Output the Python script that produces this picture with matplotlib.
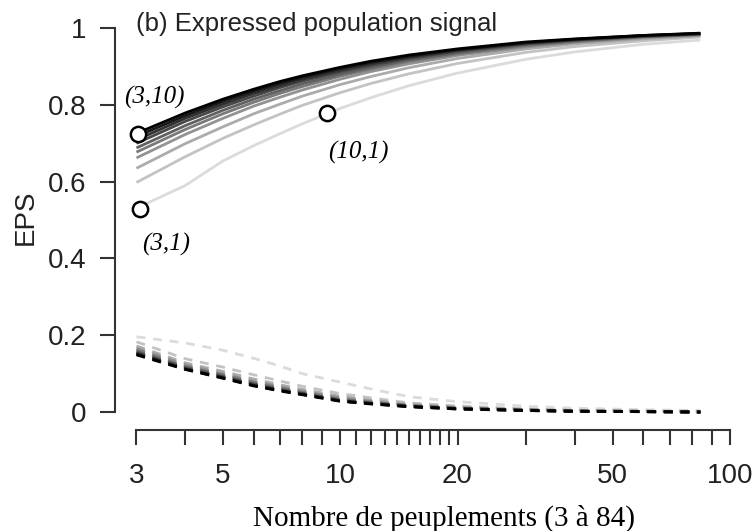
import numpy as np
import matplotlib.pyplot as plt

# number of stands (x) and EPS curves, one per series 1..10 (light -> dark)
n_stands = [3, 4, 5, 6, 7, 8, 10, 12, 15, 20, 30, 40, 60, 84]

eps_1 = [0.531, 0.590, 0.654, 0.694, 0.725, 0.751, 0.791, 0.819, 0.850, 0.883, 0.919, 0.938, 0.958, 0.969]
eps_2 = [0.598, 0.665, 0.713, 0.748, 0.776, 0.799, 0.832, 0.856, 0.881, 0.908, 0.937, 0.952, 0.967, 0.977]
eps_3 = [0.635, 0.699, 0.743, 0.777, 0.802, 0.823, 0.853, 0.874, 0.897, 0.921, 0.946, 0.959, 0.972, 0.980]
eps_4 = [0.662, 0.723, 0.765, 0.797, 0.820, 0.839, 0.867, 0.887, 0.907, 0.929, 0.951, 0.963, 0.975, 0.982]
eps_5 = [0.677, 0.736, 0.777, 0.807, 0.830, 0.848, 0.875, 0.893, 0.913, 0.933, 0.954, 0.965, 0.977, 0.983]
eps_6 = [0.688, 0.746, 0.786, 0.815, 0.837, 0.855, 0.880, 0.898, 0.917, 0.936, 0.957, 0.967, 0.978, 0.984]
eps_7 = [0.700, 0.757, 0.795, 0.823, 0.845, 0.862, 0.886, 0.903, 0.921, 0.940, 0.959, 0.969, 0.979, 0.985]
eps_8 = [0.709, 0.765, 0.802, 0.830, 0.850, 0.867, 0.890, 0.907, 0.924, 0.942, 0.961, 0.970, 0.980, 0.986]
eps_9 = [0.718, 0.772, 0.809, 0.836, 0.856, 0.872, 0.895, 0.911, 0.927, 0.944, 0.962, 0.971, 0.981, 0.986]
eps_10 = [0.726, 0.779, 0.815, 0.841, 0.861, 0.876, 0.898, 0.914, 0.930, 0.946, 0.964, 0.972, 0.981, 0.987]

# dashed curves at the bottom
low_1 = [0.196, 0.180, 0.161, 0.140, 0.120, 0.100, 0.078, 0.060, 0.040, 0.027, 0.015, 0.010, 0.006, 0.004]
low_2 = [0.183, 0.139, 0.117, 0.097, 0.081, 0.067, 0.048, 0.037, 0.024, 0.016, 0.008, 0.005, 0.003, 0.002]
low_3 = [0.172, 0.128, 0.106, 0.086, 0.071, 0.059, 0.041, 0.031, 0.021, 0.013, 0.007, 0.004, 0.002, 0.001]
low_4 = [0.166, 0.123, 0.100, 0.080, 0.066, 0.054, 0.037, 0.028, 0.018, 0.011, 0.006, 0.003, 0.002, 0.001]
low_5 = [0.162, 0.119, 0.097, 0.077, 0.063, 0.052, 0.034, 0.026, 0.017, 0.010, 0.005, 0.003, 0.002, 0.000]
low_6 = [0.158, 0.117, 0.094, 0.074, 0.060, 0.049, 0.032, 0.024, 0.016, 0.010, 0.005, 0.003, 0.001, 0.000]
low_7 = [0.155, 0.114, 0.092, 0.072, 0.058, 0.048, 0.030, 0.023, 0.015, 0.009, 0.005, 0.002, 0.001, 0.000]
low_8 = [0.153, 0.113, 0.090, 0.070, 0.057, 0.047, 0.029, 0.022, 0.015, 0.009, 0.004, 0.002, 0.001, 0.000]
low_9 = [0.151, 0.112, 0.089, 0.069, 0.056, 0.046, 0.029, 0.022, 0.014, 0.008, 0.004, 0.002, 0.001, 0.000]
low_10 = [0.149, 0.111, 0.088, 0.068, 0.055, 0.045, 0.028, 0.021, 0.014, 0.008, 0.004, 0.002, 0.001, 0.000]

# highlighted points
pt_x = [3.02, 3.07, 9.25]
pt_y = [0.724, 0.530, 0.778]
pt_labels = ['(3,10)', '(3,1)', '(10,1)']

x_ticks = list(range(3, 21)) + [30, 40, 50, 60, 70, 80, 90, 100]
x_labelled = [3, 5, 10, 20, 50, 100]

eps_all = [eps_1, eps_2, eps_3, eps_4, eps_5, eps_6, eps_7, eps_8, eps_9, eps_10]
low_all = [low_1, low_2, low_3, low_4, low_5, low_6, low_7, low_8, low_9, low_10]
greys = np.linspace(0.86, 0.0, 10)

axcol = '#333333'
fig = plt.figure(figsize=(7.54, 5.31), dpi=100)
ax = fig.add_axes([0.181, 0.224, 0.787, 0.723])

for i in range(10):
    c = str(greys[i])
    ax.plot(n_stands, low_all[i], color=c, lw=2.0, ls=(0, (3.2, 2.8)), clip_on=False)
for i in range(10):
    c = str(greys[i])
    ax.plot(n_stands, eps_all[i], color=c, lw=2.0, clip_on=False, solid_capstyle='butt')

ax.plot(pt_x, pt_y, 'o', ms=11, mfc='white', mec='black', mew=1.8, clip_on=False, zorder=5)

# label positions (data coords)
ax.text(3.33, 0.820, pt_labels[0], family='Liberation Serif', style='italic', fontsize=18, ha='center', va='center')
ax.text(3.57, 0.4375, pt_labels[1], family='Liberation Serif', style='italic', fontsize=18, ha='center', va='center')
ax.text(11.1, 0.677, pt_labels[2], family='Liberation Serif', style='italic', fontsize=18, ha='center', va='center')

ax.text(0.0, 1.012, '(b) Expressed population signal', transform=ax.transAxes,
        family='Liberation Sans', fontsize=18.5, color='#222222', ha='left', va='center')

ax.set_xscale('log')
ax.set_xlim(3, 100)
ax.set_ylim(0, 1)
ax.set_xticks(x_ticks)
ax.set_xticklabels([str(t) if t in x_labelled else '' for t in x_ticks])
ax.xaxis.set_minor_locator(plt.NullLocator())
ax.set_yticks([0, 0.2, 0.4, 0.6, 0.8, 1])
ax.set_yticklabels(['0', '0.2', '0.4', '0.6', '0.8', '1'])

for s in ['top', 'right']:
    ax.spines[s].set_visible(False)
ax.spines['left'].set_position(('outward', 15.5))
ax.spines['bottom'].set_position(('outward', 12.6))
ax.spines['left'].set_bounds(0, 1)
ax.spines['bottom'].set_bounds(3, 100)
for s in ['left', 'bottom']:
    ax.spines[s].set_color(axcol)
    ax.spines[s].set_linewidth(1.5)
ax.tick_params(axis='both', length=10.8, width=1.5, color=axcol, labelcolor='#222222')
ax.tick_params(axis='y', pad=10, labelsize=20)
ax.tick_params(axis='x', pad=13, labelsize=20)
for lab in ax.get_xticklabels() + ax.get_yticklabels():
    lab.set_family('Liberation Sans')

fig.text(26 / 754, 1 - 217 / 531, 'EPS', rotation=90, family='Liberation Sans',
         fontsize=20, color='#222222', ha='center', va='center')
fig.text(444 / 754, 1 - 518 / 531, 'Nombre de peuplements (3 à 84)',
         family='Liberation Serif', fontsize=21, ha='center', va='center')

fig.savefig('out.png', dpi=100)
